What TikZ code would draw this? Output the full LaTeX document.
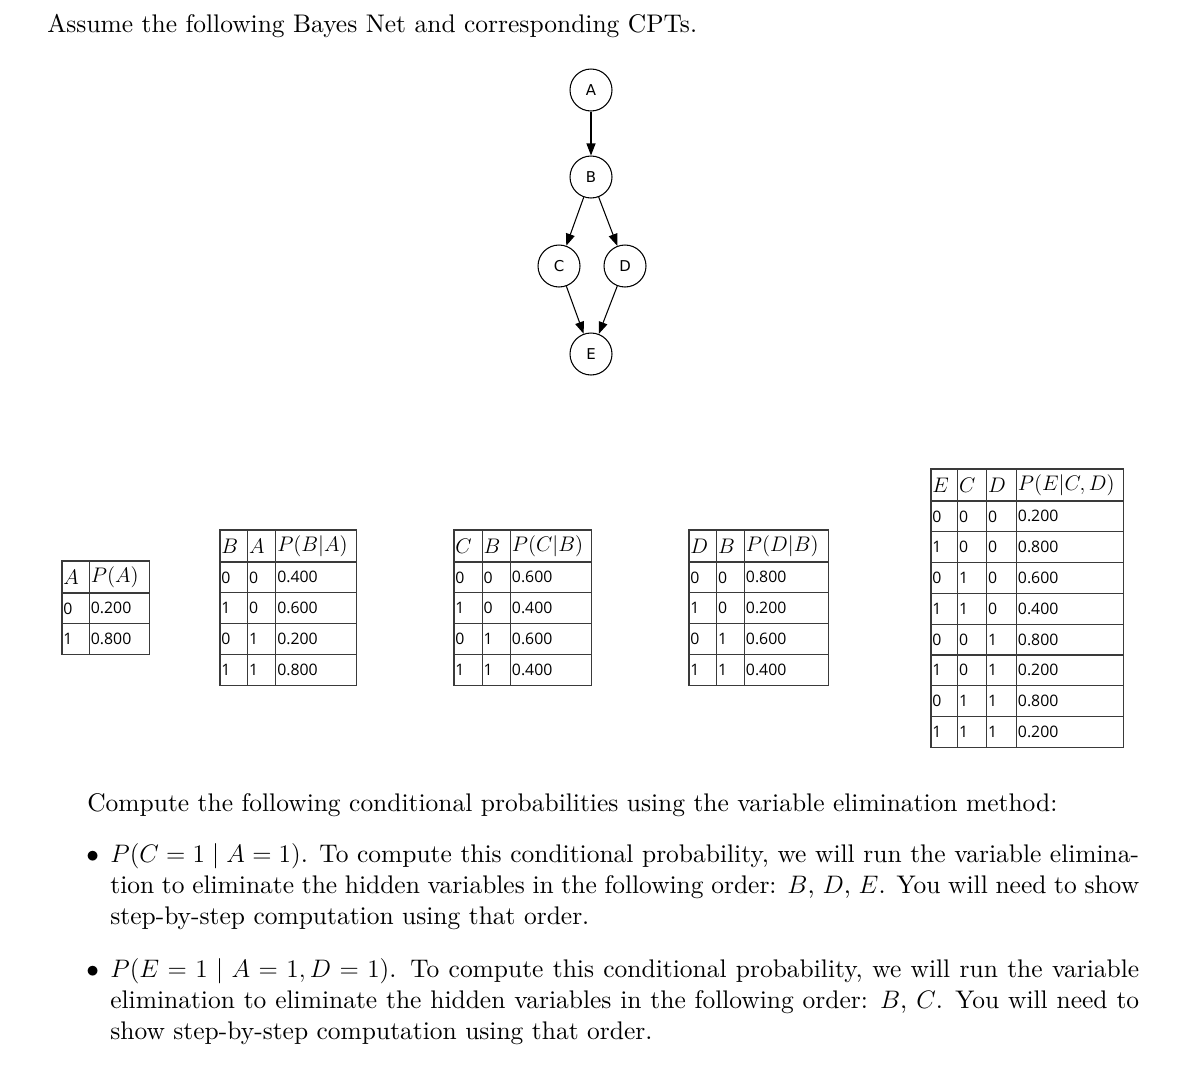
\documentclass[tikz,border=0pt]{standalone}
\usepackage{fontspec}
\setmainfont{lmroman10-regular.otf}[ItalicFont=lmroman10-italic.otf,
  BoldFont=lmroman10-bold.otf]
\newfontfamily\cellfamily{Open Sans}
\newfontfamily\dotfamily{DejaVu Sans}
\usetikzlibrary{arrows.meta, matrix}
\definecolor{tabline}{HTML}{3A3A3A}

\begin{document}
\begin{tikzpicture}[x=0.02cm, y=-0.02cm,
  bnode/.style={circle, draw, line width=0.6pt, minimum size=0.84cm,
    inner sep=0pt, font=\dotfamily\fontsize{8.5}{9}\selectfont},
  edge/.style={-{Triangle[length=0.24cm, width=0.18cm]}, line width=0.6pt},
  cpt/.style={matrix of nodes, anchor=north west, inner sep=0pt,
    column sep=-0.7pt, row sep=-0.7pt,
    nodes={draw=tabline, line width=0.7pt, anchor=center, inner xsep=0.8pt,
      inner ysep=0pt, minimum height=0.616cm, align=left,
      font=\cellfamily\fontsize{9}{11}\selectfont},
    row 1/.style={nodes={minimum height=0.64cm,
      font=\fontsize{12}{14}\selectfont}}},
  cw/.style={nodes={text width=#1}},
  txt/.style={anchor=base west, inner sep=0pt,
    font=\fontsize{14.5}{17.9}\selectfont},
  para/.style={txt, text width=20.58cm, align=justify}]
  \useasboundingbox (0,0) rectangle (1202,1082);

  \node[txt] (title) at (47,32) {Assume the following Bayes Net and corresponding CPTs.};

  % the net
  \node[bnode] (A) at (591,90) {A};
  \node[bnode] (B) at (591,177) {B};
  \node[bnode] (C) at (559,266) {C};
  \node[bnode] (D) at (625,266) {D};
  \node[bnode] (E) at (591,354) {E};
  \draw[edge] (A) -- (B);
  \draw[edge] (B) -- (C);
  \draw[edge] (B) -- (D);
  \draw[edge] (C) -- (E);
  \draw[edge] (D) -- (E);

  % CPTs
  \matrix (cptA) [cpt, column 1/.style={cw=0.495cm},
    column 2/.style={cw=1.143cm}] at (61,560) {
    $A$ & $P(A)$ \\
    0 & 0.200 \\
    1 & 0.800 \\
  };
  \matrix (cptB) [cpt, column 1/.style={cw=0.497cm},
    column 2/.style={cw=0.509cm}, column 3/.style={cw=1.563cm}] at (219,529) {
    $B$ & $A$ & $P(B|A)$ \\
    0 & 0 & 0.400 \\
    1 & 0 & 0.600 \\
    0 & 1 & 0.200 \\
    1 & 1 & 0.800 \\
  };
  \matrix (cptC) [cpt, column 1/.style={cw=0.511cm},
    column 2/.style={cw=0.509cm}, column 3/.style={cw=1.563cm}] at (453,529) {
    $C$ & $B$ & $P(C|B)$ \\
    0 & 0 & 0.600 \\
    1 & 0 & 0.400 \\
    0 & 1 & 0.600 \\
    1 & 1 & 0.400 \\
  };
  \matrix (cptD) [cpt, column 1/.style={cw=0.497cm},
    column 2/.style={cw=0.503cm}, column 3/.style={cw=1.629cm}] at (688,529) {
    $D$ & $B$ & $P(D|B)$ \\
    0 & 0 & 0.800 \\
    1 & 0 & 0.200 \\
    0 & 1 & 0.600 \\
    1 & 1 & 0.400 \\
  };
  \matrix (cptE) [cpt, column 1/.style={cw=0.477cm},
    column 2/.style={cw=0.523cm}, column 3/.style={cw=0.543cm},
    column 4/.style={cw=2.083cm}] at (930,468) {
    $E$ & $C$ & $D$ & $P(E|C,D)$ \\
    0 & 0 & 0 & 0.200 \\
    1 & 0 & 0 & 0.800 \\
    0 & 1 & 0 & 0.600 \\
    1 & 1 & 0 & 0.400 \\
    0 & 0 & 1 & 0.800 \\
    1 & 0 & 1 & 0.200 \\
    0 & 1 & 1 & 0.800 \\
    1 & 1 & 1 & 0.200 \\
  };

  \node[txt] (task) at (87,811) {Compute the following conditional probabilities using the variable elimination method:};
  \node[txt] (dot1) at (86,862) {$\bullet$};
  \node[para] (q1) at (110,862) {$P(C=1\mid A=1)$. To compute this conditional probability, we will run the variable elimina-\linebreak tion to eliminate the hidden variables in the following order: $B$, $D$, $E$. You will need to show\linebreak step-by-step computation using that order.};
  \node[txt] (dot2) at (86,977) {$\bullet$};
  \node[para] (q2) at (110,977) {$P(E=1\mid A=1,D=1)$. To compute this conditional probability, we will run the variable\linebreak elimination to eliminate the hidden variables in the following order: $B$, $C$. You will need to\linebreak show step-by-step computation using that order.};
\end{tikzpicture}
\end{document}
